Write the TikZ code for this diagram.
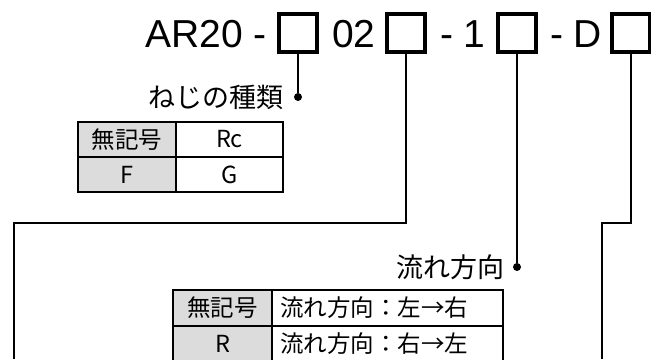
\documentclass[tikz,border=0pt]{standalone}
\usepackage{fontspec}
\newfontfamily\jpfont{Noto Sans CJK JP}
\newfontfamily\codefont{Liberation Sans}
\usetikzlibrary{positioning}
\definecolor{keygray}{HTML}{DCDCDC}
\tikzset {
  % boxes and parts of the order code
  codebox/.style = {draw, line width=4pt, minimum size=38pt, inner sep=0pt},
  codetext/.style = {inner sep=0pt, anchor=base west, font=\codefont\fontsize{39}{40}\selectfont},
  % leader lines from the boxes
  lead/.style = {line width=1.4pt},
  dot/.style = {circle, fill, inner sep=0pt, minimum size=8pt},
  title/.style = {inner sep=0pt, font=\jpfont\fontsize{27}{30}\selectfont},
  % option tables
  cell/.style = {draw, line width=1.4pt, outer sep=0pt, inner sep=0pt, minimum height=35pt, font=\jpfont\fontsize{23.5}{26}\selectfont},
  keycell/.style = {cell, fill=keygray, minimum width=98pt},
  valcell/.style = {cell, minimum width=107pt},
  widecell/.style = {cell, text width=215pt, inner xsep=8pt, align=left},
}
\begin{document}
\begin{tikzpicture}[x=1pt, y=-1pt]
      \useasboundingbox (0,0) rectangle (651,359);

      \node[codetext] (t1) at (145,47) {AR20 -};
      \node[codebox] (b1) at (298,32.5) {};
      \node[codetext] (t2) at (332,47) {02};
      \node[codebox] (b2) at (406,32.5) {};
      \node[codetext] (t3) at (440,47) {- 1};
      \node[codebox] (b3) at (517,32.5) {};
      \node[codetext] (t4) at (550,47) {- D};
      \node[codebox] (b4) at (631,32.5) {};

      % thread type
      \node[dot] (d1) at (298,97) {};
      \node[title, left=10pt of d1] (n1) {ねじの種類};
      \draw[lead] (b1.south) -- (d1);

      \node[keycell] (k1) at (127,139.5) {無記号};
      \node[valcell, right=0pt of k1] (v1) {Rc};
      \node[keycell, below=0pt of k1] (k2) {F};
      \node[valcell, below=0pt of v1] (v2) {G};

      % flow direction
      \node[dot] (d3) at (517,267) {};
      \node[title, left=8pt of d3] (n3) {流れ方向};
      \draw[lead] (b3.south) -- (d3);

      \node[keycell, minimum width=99pt, minimum height=36pt] (k3) at (222.5,308) {無記号};
      \node[widecell, minimum height=36pt, right=0pt of k3] (v3) {流れ方向：左\makebox[1em]{→}右};
      \node[keycell, minimum width=99pt, minimum height=36pt, below=0pt of k3] (k4) {R};
      \node[widecell, minimum height=36pt, below=0pt of v3] (v4) {流れ方向：右\makebox[1em]{→}左};

      % lines running on below
      \coordinate (e2) at (14,359);
      \coordinate (e4) at (602,359);
      \draw[lead] (b2.south) -- ++(0,169.5) -| (e2);
      \draw[lead] (b4.south) -- ++(0,169.5) -| (e4);
\end{tikzpicture}
\end{document}
